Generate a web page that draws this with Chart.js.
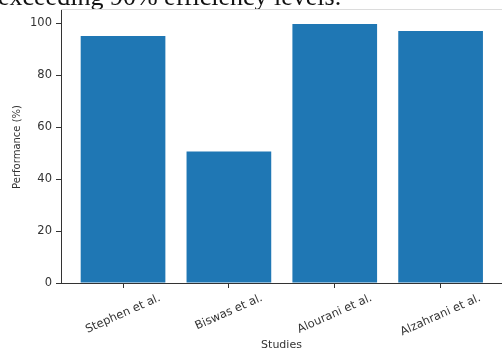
<!DOCTYPE html>
<html>
<head>
<meta charset="utf-8">
<script src="https://cdn.jsdelivr.net/npm/chart.js@4.4.1/dist/chart.umd.min.js"></script>
<style>
  html, body { margin: 0; padding: 0; background: #fff; }
  #wrap { width: 502px; height: 353px; overflow: hidden; }
</style>
</head>
<body>
<div id="wrap"><canvas id="grafico" width="502" height="353"></canvas></div>
<script>
// studies compared and their reported performance (%)
const studies = ['Stephen et al.', 'Biswas et al.', 'Alourani et al.', 'Alzahrani et al.'];
const performance = [95, 50.6, 99.7, 97];
const yTicks = [0, 20, 40, 60, 80, 100];
const headerText = 'exceeding 90% efficiency levels.';

Chart.defaults.font.family = '"DejaVu Sans", sans-serif';
Chart.defaults.color = '#333';

// line of document text above the figure, plus the thin rule under it
const cabecera = {
    id: 'cabecera',
    beforeDraw(chart) {
        const ctx = chart.ctx;
        ctx.save();
        ctx.font = '26px "Liberation Serif", serif';
        ctx.fillStyle = '#111';
        ctx.textAlign = 'left';
        ctx.textBaseline = 'alphabetic';
        ctx.fillText(headerText, -2, 5);
        ctx.strokeStyle = '#dcdcdc';
        ctx.lineWidth = 1;
        ctx.beginPath();
        ctx.moveTo(chart.chartArea.left, 9.5);
        ctx.lineTo(chart.width, 9.5);
        ctx.stroke();
        ctx.restore();
    }
};

// rotated study names, centred under each tick
const etiquetasX = {
    id: 'etiquetasX',
    afterDraw(chart) {
        const ctx = chart.ctx;
        const x = chart.scales.x;
        const angle = 24 * Math.PI / 180;
        ctx.save();
        ctx.font = '11.5px "DejaVu Sans", sans-serif';
        ctx.fillStyle = '#333';
        ctx.textAlign = 'center';
        ctx.textBaseline = 'middle';
        studies.forEach((name, i) => {
            const w = ctx.measureText(name).width;
            const h = 12;
            const boxH = w * Math.sin(angle) + h * Math.cos(angle);
            const px = x.getPixelForValue(i);
            const py = x.top + 5 + 4 + boxH / 2;
            ctx.save();
            ctx.translate(px, py);
            ctx.rotate(-angle);
            ctx.fillText(name, 0, 0);
            ctx.restore();
        });
        ctx.restore();
    }
};

new Chart(document.getElementById('grafico').getContext('2d'), {
    type: 'bar',
    data: {
        datasets: [{
            data: studies.map((s, i) => ({ x: i, y: performance[i] })),
            backgroundColor: '#1f77b4',
            borderWidth: 0,
            barPercentage: 0.8,
            categoryPercentage: 1
        }]
    },
    options: {
        responsive: false,
        animation: false,
        layout: { padding: { top: 9, left: 0, right: 0, bottom: 0 } },
        plugins: {
            legend: { display: false },
            tooltip: { enabled: false }
        },
        scales: {
            x: {
                type: 'linear',
                min: -0.586,
                max: 3.58,
                offset: false,
                afterBuildTicks: axis => { axis.ticks = studies.map((s, i) => ({ value: i })); },
                afterFit: scale => { scale.height = 70; },
                ticks: { display: false },
                grid: {
                    display: true,
                    offset: false,
                    drawOnChartArea: false,
                    drawTicks: true,
                    tickLength: 5,
                    color: '#333'
                },
                border: { display: true, color: '#333', width: 1 },
                title: {
                    display: true,
                    text: 'Studies',
                    color: '#333',
                    font: { size: 11 },
                    padding: { top: 0, bottom: 1 }
                }
            },
            y: {
                min: 0,
                max: 104.7,
                afterBuildTicks: axis => { axis.ticks = yTicks.map(v => ({ value: v })); },
                afterFit: scale => { scale.width = 61; },
                ticks: {
                    font: { size: 11.5 },
                    color: '#333',
                    padding: 4
                },
                grid: {
                    display: true,
                    drawOnChartArea: false,
                    drawTicks: true,
                    tickLength: 5,
                    color: '#333'
                },
                border: { display: true, color: '#333', width: 1 },
                title: {
                    display: true,
                    text: 'Performance (%)',
                    color: '#333',
                    font: { size: 10 },
                    padding: { top: 11, bottom: 0 }
                }
            }
        }
    },
    plugins: [cabecera, etiquetasX]
});
</script>
</body>
</html>
